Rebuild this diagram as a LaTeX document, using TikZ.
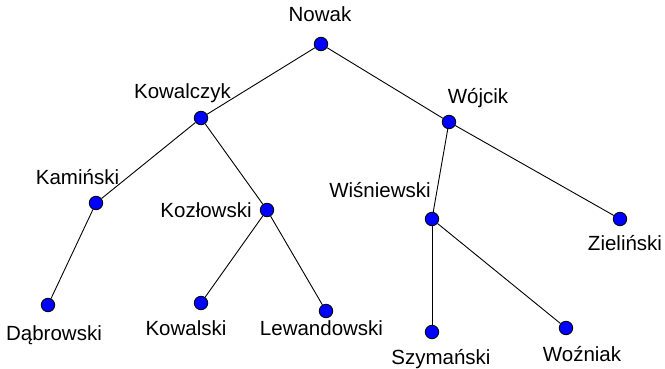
\documentclass[tikz,border=0pt]{standalone}
\usepackage{fontspec}
\setmainfont{Liberation Sans}
\usetikzlibrary{positioning}

\tikzset{
  dot/.style={circle,draw=black,fill=blue,line width=0.8pt,inner sep=0pt,minimum size=13.5pt},
  surname/.style={anchor=base,inner sep=0pt,font=\fontsize{20.5}{24}\selectfont},
  branch/.style={line width=0.9pt}
}

\begin{document}
\begin{tikzpicture}[x=1pt,y=-1pt]
\useasboundingbox (0,0) rectangle (665,369);

% persons
\node[dot] (nowak) at (321,44) {};
\node[dot] (kowalczyk) at (201,118) {};
\node[dot] (wojcik) at (449,122) {};
\node[dot] (kaminski) at (96,203) {};
\node[dot] (kozlowski) at (267,210) {};
\node[dot] (wisniewski) at (432,219) {};
\node[dot] (zielinski) at (620,219) {};
\node[dot] (dabrowski) at (48,305) {};
\node[dot] (kowalski) at (201,303) {};
\node[dot] (lewandowski) at (326,311) {};
\node[dot] (szymanski) at (432,332) {};
\node[dot] (wozniak) at (566,328) {};

% names
\node[surname] (nowak-t) at (320,22) {Nowak};
\node[surname] (kowalczyk-t) at (182.5,99) {Kowalczyk};
\node[surname] (wojcik-t) at (478,103) {Wójcik};
\node[surname] (kaminski-t) at (77.5,184) {Kamiński};
\node[surname] (kozlowski-t) at (206,218) {Kozłowski};
\node[surname] (wisniewski-t) at (380,197) {Wiśniewski};
\node[surname] (zielinski-t) at (625,250) {Zieliński};
\node[surname] (dabrowski-t) at (54,340) {Dąbrowski};
\node[surname] (kowalski-t) at (186,335) {Kowalski};
\node[surname] (lewandowski-t) at (321.5,335) {Lewandowski};
\node[surname] (szymanski-t) at (441,364) {Szymański};
\node[surname] (wozniak-t) at (582,361) {Woźniak};

% tree
\draw[branch] (nowak) -- (kowalczyk);
\draw[branch] (nowak) -- (wojcik);
\draw[branch] (kowalczyk) -- (kaminski);
\draw[branch] (kowalczyk) -- (kozlowski);
\draw[branch] (kaminski) -- (dabrowski);
\draw[branch] (kozlowski) -- (kowalski);
\draw[branch] (kozlowski) -- (lewandowski);
\draw[branch] (wojcik) -- (wisniewski);
\draw[branch] (wojcik) -- (zielinski);
\draw[branch] (wisniewski) -- (szymanski);
\draw[branch] (wisniewski) -- (wozniak);
\end{tikzpicture}
\end{document}
